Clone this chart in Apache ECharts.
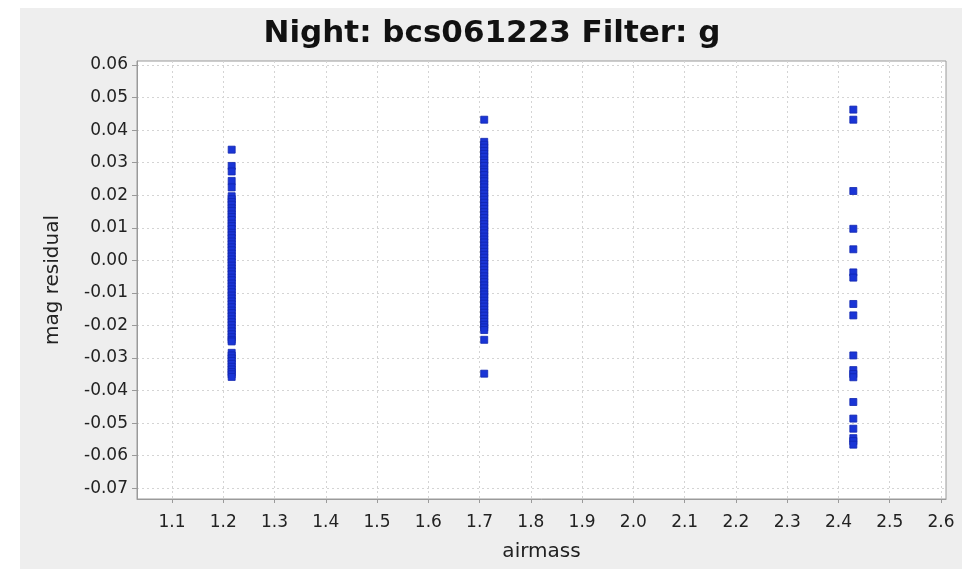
<!DOCTYPE html>
<html>
<head>
<meta charset="utf-8">
<script src="https://cdn.jsdelivr.net/npm/echarts@6/dist/echarts.min.js"></script>
<style>
  html, body { margin: 0; padding: 0; background: #fff; }
  #panel { position: absolute; left: 20px; top: 8px; width: 942px; height: 561px; background: #eeeeee; }
  #chart { position: absolute; left: 0; top: 0; width: 962px; height: 569px; }
</style>
</head>
<body>
<div id="panel"></div>
<div id="chart"></div>
<script>
// airmass of each exposure group
const airmassA = 1.2164
const airmassB = 1.709
const airmassC = 2.429

// mag residuals
const residA = [
  0.0340, 0.0290, 0.0273, 0.0244, 0.0224,
  0.0197, 0.0188, 0.0179, 0.0171, 0.0160, 0.0152, 0.0141, 0.0133, 0.0124, 0.0113,
  0.0105, 0.0096, 0.0085, 0.0077, 0.0068, 0.0058, 0.0049, 0.0040, 0.0031, 0.0021,
  0.0012, 0.0003, -0.0006, -0.0016, -0.0025, -0.0034, -0.0043, -0.0053, -0.0061, -0.0071,
  -0.0080, -0.0089, -0.0098, -0.0108, -0.0117, -0.0126, -0.0135, -0.0144, -0.0154, -0.0162,
  -0.0172, -0.0181, -0.0190, -0.0199, -0.0209, -0.0218, -0.0227, -0.0236, -0.0244, -0.0249,
  -0.0284, -0.0292, -0.0301, -0.0309, -0.0318, -0.0327, -0.0335, -0.0343, -0.0350, -0.0358
]
const residB = [
  0.0432,
  0.0364, 0.0355, 0.0346, 0.0336, 0.0327, 0.0318, 0.0307, 0.0299, 0.0290, 0.0279,
  0.0271, 0.0262, 0.0251, 0.0243, 0.0233, 0.0224, 0.0214, 0.0205, 0.0195, 0.0186,
  0.0177, 0.0167, 0.0158, 0.0148, 0.0139, 0.0130, 0.0120, 0.0111, 0.0102, 0.0092,
  0.0083, 0.0073, 0.0064, 0.0055, 0.0045, 0.0036, 0.0026, 0.0017, 0.0008, -0.0002,
  -0.0011, -0.0020, -0.0030, -0.0039, -0.0049, -0.0058, -0.0067, -0.0077, -0.0086, -0.0096,
  -0.0105, -0.0114, -0.0124, -0.0133, -0.0142, -0.0152, -0.0161, -0.0170, -0.0180, -0.0189,
  -0.0198, -0.0206, -0.0214,
  -0.0244, -0.0348
]
const residC = [
  0.0463, 0.0432, 0.0213, 0.0097, 0.0034, -0.0037, -0.0053, -0.0134, -0.0169, -0.0292,
  -0.0337, -0.0349, -0.0359, -0.0435, -0.0486, -0.0517, -0.0546, -0.0555, -0.0566
]

const xTicks = [1.1, 1.2, 1.3, 1.4, 1.5, 1.6, 1.7, 1.8, 1.9, 2.0, 2.1, 2.2, 2.3, 2.4, 2.5, 2.6]
const yTicks = [0.06, 0.05, 0.04, 0.03, 0.02, 0.01, 0.0, -0.01, -0.02, -0.03, -0.04, -0.05, -0.06, -0.07]

const points = [].concat(
  residA.map(v => [airmassA, v]),
  residB.map(v => [airmassB, v]),
  residC.map(v => [airmassC, v])
)

const font = 'DejaVu Sans'
const gridLine = { show: true, lineStyle: { color: '#d4d4d4', type: [2, 3], width: 1 } }

const chart = echarts.init(document.getElementById('chart'))
chart.setOption({
  animation: false,
  backgroundColor: 'transparent',
  title: {
    text: 'Night: bcs061223 Filter: g',
    left: 487,
    textAlign: 'center',
    top: 13,
    textStyle: { fontFamily: font, fontWeight: 'bold', fontSize: 31, color: '#111' }
  },
  grid: {
    left: 137, right: 16, top: 61, bottom: 70,
    show: true, backgroundColor: '#ffffff', borderColor: '#9a9a9a', borderWidth: 1
  },
  xAxis: {
    type: 'value',
    min: 1.0317,
    max: 2.6098,
    name: 'airmass',
    nameLocation: 'middle',
    nameGap: 43,
    nameTextStyle: { fontFamily: font, fontSize: 20, color: '#222' },
    axisLine: { show: true, onZero: false, lineStyle: { color: '#9a9a9a' } },
    axisTick: { show: true, length: 4, customValues: xTicks, lineStyle: { color: '#9a9a9a' } },
    axisLabel: {
      customValues: xTicks, margin: 15,
      fontFamily: font, fontSize: 17, color: '#222',
      formatter: v => v.toFixed(1)
    },
    splitLine: gridLine
  },
  yAxis: {
    type: 'value',
    min: -0.07329,
    max: 0.06123,
    name: 'mag residual',
    nameLocation: 'middle',
    nameGap: 74,
    nameTextStyle: { fontFamily: font, fontSize: 20, color: '#222' },
    axisLine: { show: true, onZero: false, lineStyle: { color: '#9a9a9a' } },
    axisTick: { show: true, length: 5, customValues: yTicks, lineStyle: { color: '#9a9a9a' } },
    axisLabel: {
      customValues: yTicks, margin: 9,
      fontFamily: font, fontSize: 17, color: '#222',
      formatter: v => v.toFixed(2)
    },
    splitLine: gridLine
  },
  series: [{
    type: 'scatter',
    symbol: 'rect',
    symbolSize: 7,
    itemStyle: { color: '#1a35d6', borderColor: '#1026b0', borderWidth: 0.8, opacity: 1 },
    data: points
  }]
})
</script>
</body>
</html>
